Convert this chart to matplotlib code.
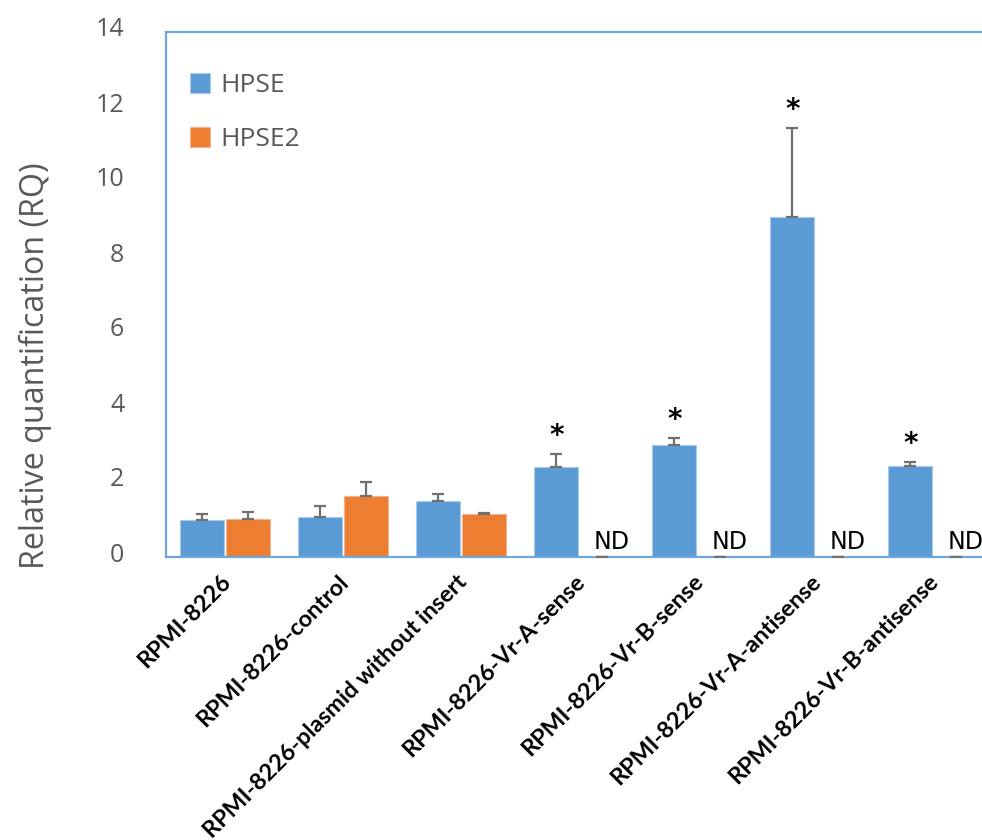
import numpy as np
import matplotlib
matplotlib.use("Agg")
import matplotlib.pyplot as plt
import matplotlib.transforms as mtransforms

categories = ["RPMI-8226", "RPMI-8226-control", "RPMI-8226-plasmid without insert",
              "RPMI-8226-Vr-A-sense", "RPMI-8226-Vr-B-sense",
              "RPMI-8226-Vr-A-antisense", "RPMI-8226-Vr-B-antisense"]
hpse = [1.00, 1.08, 1.49, 2.40, 2.98, 9.07, 2.42]
hpse_err = [0.15, 0.28, 0.20, 0.35, 0.20, 2.37, 0.11]
hpse2 = [1.01, 1.62, 1.15, 0.0, 0.0, 0.0, 0.0]
hpse2_err = [0.19, 0.39, 0.02, 0.0, 0.0, 0.0, 0.0]
significant = [False, False, False, True, True, True, True]
not_detected = [False, False, False, True, True, True, True]
yticks = [0, 2, 4, 6, 8, 10, 12, 14]

BLUE = "#5B9BD5"
ORANGE = "#ED7D31"
GRAY = "#595959"
SPINE = "#6FA6DC"

fig = plt.figure(figsize=(9.82, 8.4), dpi=100)
ax = fig.add_axes([166/982, (840-557)/840, (992-166)/982, (557-32)/840])

x = np.arange(len(categories))
w = 0.375
off = 0.193
ax.bar(x - off, hpse, w, color=BLUE, edgecolor="#a9c9ea", linewidth=0.8, label="HPSE", zorder=2)
ax.bar(x + off, hpse2, w, color=ORANGE, edgecolor="#f3b58f", linewidth=0.8, label="HPSE2", zorder=2)
z = np.zeros(len(x))
ax.errorbar(x - off, hpse, yerr=[z, hpse_err], fmt="none", ecolor="#707070", elinewidth=1.6,
            capsize=4.3, capthick=1.6, zorder=3)
ax.errorbar(x + off, hpse2, yerr=[z, hpse2_err], fmt="none", ecolor="#707070", elinewidth=1.6,
            capsize=4.3, capthick=1.6, zorder=3)

for i in range(len(x)):
    if significant[i]:
        ax.annotate("*", (x[i] - off, hpse[i] + hpse_err[i]), xytext=(0, 3),
                    textcoords="offset points", ha="center", va="bottom",
                    fontsize=20, fontweight="bold", color="black", family="DejaVu Sans")
    if not_detected[i]:
        ax.annotate("ND", (x[i] + off, 0), xytext=(7, 2.5), textcoords="offset points",
                    ha="center", va="bottom", fontsize=17, color="black", family="DejaVu Sans")

ax.set_xlim(-0.5, len(x) - 0.5)
ax.set_ylim(0, 14)
ax.set_yticks(yticks)
ax.set_yticklabels([str(t) for t in yticks], fontsize=18, color=GRAY, family="Open Sans")
ax.tick_params(axis="y", length=0, pad=30)
ax.set_xticks(x)
ax.set_xticklabels(categories, rotation=45, ha="right", va="top", rotation_mode="anchor",
                   fontsize=16.8, fontweight="bold", family="Lato", color="black")
ax.tick_params(axis="x", length=0, pad=10)

dy = mtransforms.ScaledTranslation(0, 5/100, fig.dpi_scale_trans)
for lab in ax.get_yticklabels():
    lab.set_transform(lab.get_transform() + dy)
dx = mtransforms.ScaledTranslation(-5/100, 0, fig.dpi_scale_trans)
for lab in ax.get_xticklabels():
    lab.set_transform(lab.get_transform() + dx)

ax.set_ylabel("Relative quantification (RQ)", fontsize=23.2, color=GRAY, family="Open Sans")
ax.yaxis.set_label_coords((52 - 166) / 826, (557 - 366) / 525)

for s in ["left", "top", "bottom"]:
    ax.spines[s].set_color(SPINE)
    ax.spines[s].set_linewidth(1.6)
ax.spines["right"].set_visible(False)

leg = ax.legend(loc="upper left", bbox_to_anchor=((190 - 166) / 826, (557 - 73) / 525),
                frameon=False, borderpad=0, borderaxespad=0,
                handlelength=0.76, handleheight=0.76, handletextpad=0.4, labelspacing=1.1,
                prop={"family": "Open Sans", "size": 19})
for t in leg.get_texts():
    t.set_color(GRAY)

fig.savefig("out.png", dpi=100)
